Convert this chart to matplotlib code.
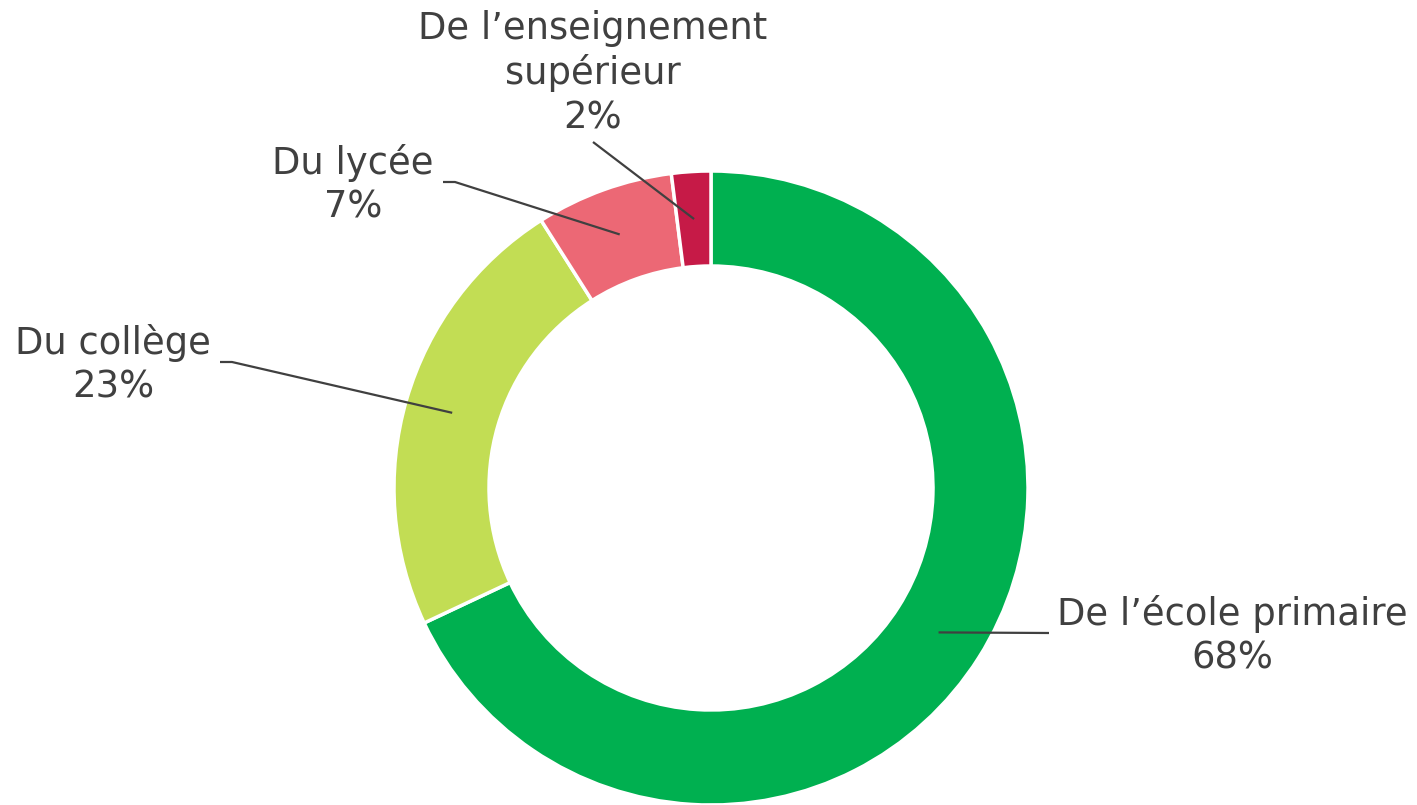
import numpy as np
import matplotlib
matplotlib.use("Agg")
import matplotlib.pyplot as plt

categories = ["De l\u2019école primaire", "Du collège", "Du lycée", "De l\u2019enseignement\nsupérieur"]
values = [68, 23, 7, 2]
colors = ["#00B050", "#C2DD54", "#EC6875", "#C61A47"]

W, H = 1417, 805
fig = plt.figure(figsize=(W / 100, H / 100), dpi=100)
ax = fig.add_axes([0, 0, 1, 1])
ax.set_xlim(0, W)
ax.set_ylim(0, H)
ax.set_aspect("equal")
ax.axis("off")

cx, cy = 711, H - 488
R = 317
ring = 95
wedges, _ = ax.pie(values, colors=colors, startangle=90, counterclock=False,
                   radius=R, center=(cx, cy), frame=True,
                   wedgeprops=dict(width=ring, edgecolor="white", linewidth=2.5))
ax.set_xlim(0, W)
ax.set_ylim(0, H)
ax.axis("off")

# label layout (pixel positions, y from top): text centre, elbow point
text_pos = [(1232, 636), (113, 365), (353, 185), (593, 73)]
elbows = [[(1049, 633)], [(232, 362), (220, 362)], [(455, 182), (443, 182)], [(593, 142)]]

rmid = R - ring / 2
for w, lab, v, tp, el in zip(wedges, categories, values, text_pos, elbows):
    ang = np.deg2rad((w.theta1 + w.theta2) / 2)
    x0 = cx + rmid * np.cos(ang)
    y0 = cy + rmid * np.sin(ang)
    xs = [x0] + [p[0] for p in el]
    ys = [y0] + [H - p[1] for p in el]
    ax.plot(xs, ys, color="#404040", lw=1.6, solid_capstyle="butt")
    ax.text(tp[0], H - tp[1], f"{lab}\n{v}%", ha="center", va="center",
            fontsize=26.6, color="#404040", linespacing=1.24, family="DejaVu Sans")

fig.savefig("out.png", dpi=100)
